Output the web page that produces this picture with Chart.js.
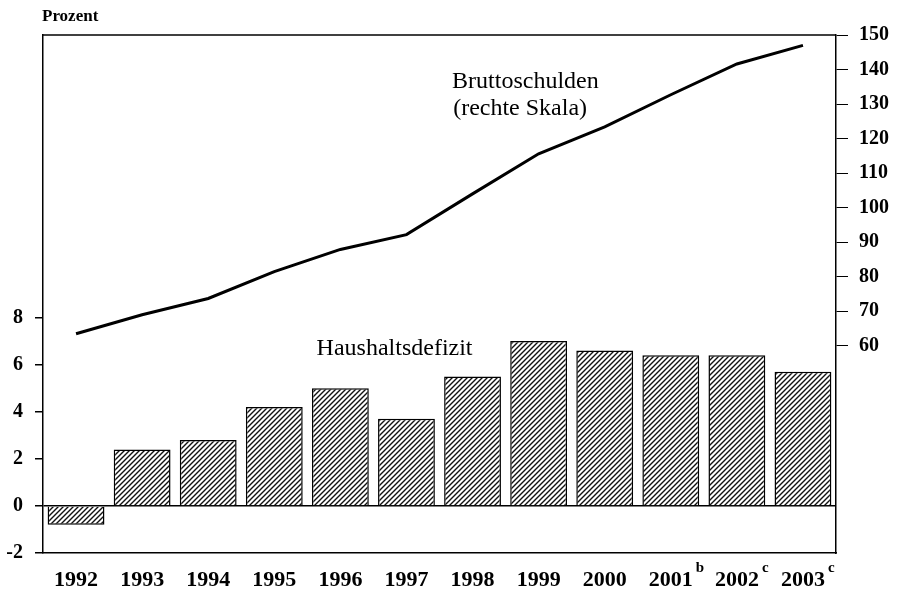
<!DOCTYPE html>
<html>
<head>
<meta charset="utf-8">
<script src="https://cdn.jsdelivr.net/npm/chart.js@4"></script>
<style>
  html, body { margin: 0; padding: 0; background: #fff; }
  #wrap { width: 903px; height: 594px; }
</style>
</head>
<body>
<div id="wrap"><canvas id="chart" width="903" height="594"></canvas></div>
<script>
const years = ['1992', '1993', '1994', '1995', '1996', '1997', '1998', '1999', '2000', '2001', '2002', '2003'];
const footnotes = ['', '', '', '', '', '', '', '', '', 'b', 'c', 'c'];
const deficit = [-0.8, 2.4, 2.8, 4.2, 5.0, 3.7, 5.5, 7.0, 6.6, 6.4, 6.4, 5.7];
const grossDebt = [63.5, 69, 73.7, 81.5, 87.9, 92.2, 104, 115.6, 123.4, 132.7, 141.6, 147];
const leftTickMax = 8;
const rightTickMin = 60;

const serif = '"Liberation Serif", "Times New Roman", serif';

function hatch() {
    const c = document.createElement('canvas');
    c.width = 5; c.height = 5;
    const g = c.getContext('2d');
    g.fillStyle = '#fff';
    g.fillRect(0, 0, 5, 5);
    g.strokeStyle = '#111';
    g.lineWidth = 1.4;
    g.beginPath();
    g.moveTo(-1, 6); g.lineTo(6, -1);
    g.moveTo(-1, 1); g.lineTo(1, -1);
    g.moveTo(4, 6); g.lineTo(6, 4);
    g.stroke();
    return g.createPattern(c, 'repeat');
}

const extras = {
    id: 'extras',
    afterDraw(chart) {
        const ctx = chart.ctx;
        const a = chart.chartArea;
        const x = chart.scales.x, y = chart.scales.y, y2 = chart.scales.y2;
        ctx.save();
        // top frame line
        ctx.strokeStyle = '#000';
        ctx.lineWidth = 1.5;
        ctx.beginPath();
        ctx.moveTo(a.left, a.top);
        ctx.lineTo(a.right, a.top);
        ctx.stroke();

        ctx.fillStyle = '#000';
        ctx.font = 'bold 17px ' + serif;
        ctx.textAlign = 'left';
        ctx.textBaseline = 'middle';
        ctx.fillText('Prozent', 42, 17);

        ctx.font = '24px ' + serif;
        ctx.textAlign = 'center';
        ctx.fillText('Bruttoschulden', x.getPixelForValue(6.8), y2.getPixelForValue(136.4));
        ctx.fillText('(rechte Skala)', x.getPixelForValue(6.72), y2.getPixelForValue(128.6));
        ctx.fillText('Haushaltsdefizit', x.getPixelForValue(4.82), y.getPixelForValue(6.66));

        // footnote markers on the year labels
        ctx.textAlign = 'left';
        ctx.textBaseline = 'alphabetic';
        footnotes.forEach((f, i) => {
            if (!f) return;
            ctx.font = 'bold 22px ' + serif;
            const w = ctx.measureText(years[i]).width;
            const px = x.getPixelForValue(i);
            ctx.font = 'bold 15px ' + serif;
            ctx.fillText(f, px + w / 2 + 3, 572);
        });
        ctx.restore();
    }
};

new Chart(document.getElementById('chart'), {
    type: 'bar',
    data: {
        labels: years,
        datasets: [{
            type: 'line',
            label: 'Bruttoschulden',
            data: grossDebt,
            yAxisID: 'y2',
            borderColor: '#000',
            borderWidth: 3,
            pointRadius: 0,
            tension: 0,
            order: 0
        }, {
            label: 'Haushaltsdefizit',
            data: deficit,
            yAxisID: 'y',
            backgroundColor: hatch(),
            borderColor: '#000',
            borderWidth: 1.5,
            barPercentage: 0.86,
            categoryPercentage: 1,
            order: 1
        }]
    },
    plugins: [extras],
    options: {
        responsive: false,
        animation: false,
        layout: { padding: { top: 35, left: 0, right: 0, bottom: 0 } },
        plugins: { legend: { display: false }, tooltip: { enabled: false } },
        scales: {
            x: {
                grid: { display: false },
                border: { display: true, color: '#000', width: 1.5 },
                ticks: { color: '#000', font: { family: serif, size: 22, weight: 'bold' }, padding: 6, maxRotation: 0 },
                afterFit: s => { s.height = 41; }
            },
            y: {
                position: 'left',
                min: -2, max: 20,
                grid: {
                    drawOnChartArea: true,
                    color: c => c.tick && c.tick.value === 0 ? '#000' : 'transparent',
                    lineWidth: 1.5,
                    tickColor: c => c.tick && c.tick.value <= leftTickMax ? '#000' : 'transparent',
                    tickLength: 8
                },
                border: { display: true, color: '#000', width: 1.5 },
                ticks: {
                    stepSize: 2, color: '#000', padding: 12,
                    font: { family: serif, size: 20, weight: 'bold' },
                    callback: v => v <= leftTickMax ? v : ''
                },
                afterFit: s => { s.width = 43; }
            },
            y2: {
                position: 'right',
                min: 0, max: 150,
                grid: {
                    drawOnChartArea: false,
                    tickColor: c => c.tick && c.tick.value >= rightTickMin ? '#000' : 'transparent',
                    tickLength: 12
                },
                border: { display: true, color: '#000', width: 1.5 },
                ticks: {
                    stepSize: 10, color: '#000', padding: 11,
                    font: { family: serif, size: 20, weight: 'bold' },
                    callback: v => v >= rightTickMin ? v : ''
                },
                afterFit: s => { s.width = 67; }
            }
        }
    }
});
</script>
</body>
</html>
